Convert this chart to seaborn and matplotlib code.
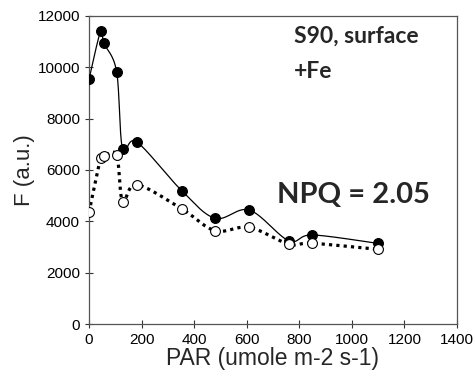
import numpy as np
import pandas as pd
import matplotlib
matplotlib.use("Agg")
import matplotlib.pyplot as plt
import seaborn as sns

par = [0, 44, 57, 105, 128, 181, 354, 480, 610, 760, 850, 1100]
f_filled = [9530, 11400, 10930, 9830, 6800, 7100, 5180, 4120, 4440, 3245, 3470, 3140]
f_open = [4350, 6450, 6545, 6570, 4765, 5430, 4480, 3635, 3765, 3115, 3145, 2910]
x_ticks = [0, 200, 400, 600, 800, 1000, 1200, 1400]
y_ticks = [0, 2000, 4000, 6000, 8000, 10000, 12000]

sns.set_style("ticks")
plt.rcParams['font.family'] = ['Liberation Sans', 'DejaVu Sans']

fig = plt.figure(figsize=(4.76, 3.79), dpi=100)
ax = fig.add_axes([0.187, 0.145, 0.773, 0.813])

XR, YR = 1400.0, 12000.0
W, H = 368.0, 308.0


def smooth(xs, ys, n=30):
    # Catmull-Rom smoothing in normalized (display-like) space
    px = np.asarray(xs, float) / XR * W
    py = np.asarray(ys, float) / YR * H
    P = np.column_stack([px, py])
    P = np.vstack([P[0], P, P[-1]])
    out = []
    for i in range(1, len(P) - 2):
        p0, p1, p2, p3 = P[i - 1], P[i], P[i + 1], P[i + 2]
        c1 = p1 + (p2 - p0) / 6.0
        c2 = p2 - (p3 - p1) / 6.0
        t = np.linspace(0, 1, n)[:, None]
        b = ((1 - t) ** 3) * p1 + 3 * ((1 - t) ** 2) * t * c1 + 3 * (1 - t) * t ** 2 * c2 + t ** 3 * p2
        out.append(b if i == 1 else b[1:])
    out = np.vstack(out)
    return out[:, 0] / W * XR, out[:, 1] / H * YR


sx, sy = smooth(par, f_filled)
ox, oy = smooth(par, f_open)
ax.plot(sx, sy, color='black', lw=0.9, zorder=2)
ax.plot(ox, oy, color='black', lw=2.3, linestyle=(0, (1, 1.3)), zorder=2)

df = pd.DataFrame({'PAR': par, 'filled': f_filled, 'open': f_open})
sns.scatterplot(data=df, x='PAR', y='filled', ax=ax, color='black', s=50,
                edgecolor='black', linewidth=0.8, zorder=3, legend=False)
sns.scatterplot(data=df, x='PAR', y='open', ax=ax, color='white', s=50,
                edgecolor='black', linewidth=0.8, zorder=3, legend=False)

ax.set_xlim(0, 1400)
ax.set_ylim(0, 12000)
ax.set_xticks(x_ticks)
ax.set_yticks(y_ticks)
ax.tick_params(direction='inout', length=6, width=0.8, labelsize=11, colors='#333333', labelcolor='black')
for s in ax.spines.values():
    s.set_visible(True)
    s.set_color('#555555')
    s.set_linewidth(0.9)

ax.set_xlabel('PAR (umole m-2 s-1)', fontsize=16.5, labelpad=0)
ax.set_ylabel('F (a.u.)', fontsize=16, labelpad=2)

ax.text(0.557, 0.912, 'S90, surface', transform=ax.transAxes, fontsize=16.5,
        fontweight='bold', family=['Lato', 'DejaVu Sans'], va='baseline', ha='left')
ax.text(0.557, 0.8, '+Fe', transform=ax.transAxes, fontsize=16.5,
        fontweight='bold', family=['Lato', 'DejaVu Sans'], va='baseline', ha='left')
ax.text(0.51, 0.393, 'NPQ = 2.05', transform=ax.transAxes, fontsize=21,
        fontweight='bold', family=['Lato', 'DejaVu Sans'], va='baseline', ha='left')

fig.savefig('out.png', dpi=100)
